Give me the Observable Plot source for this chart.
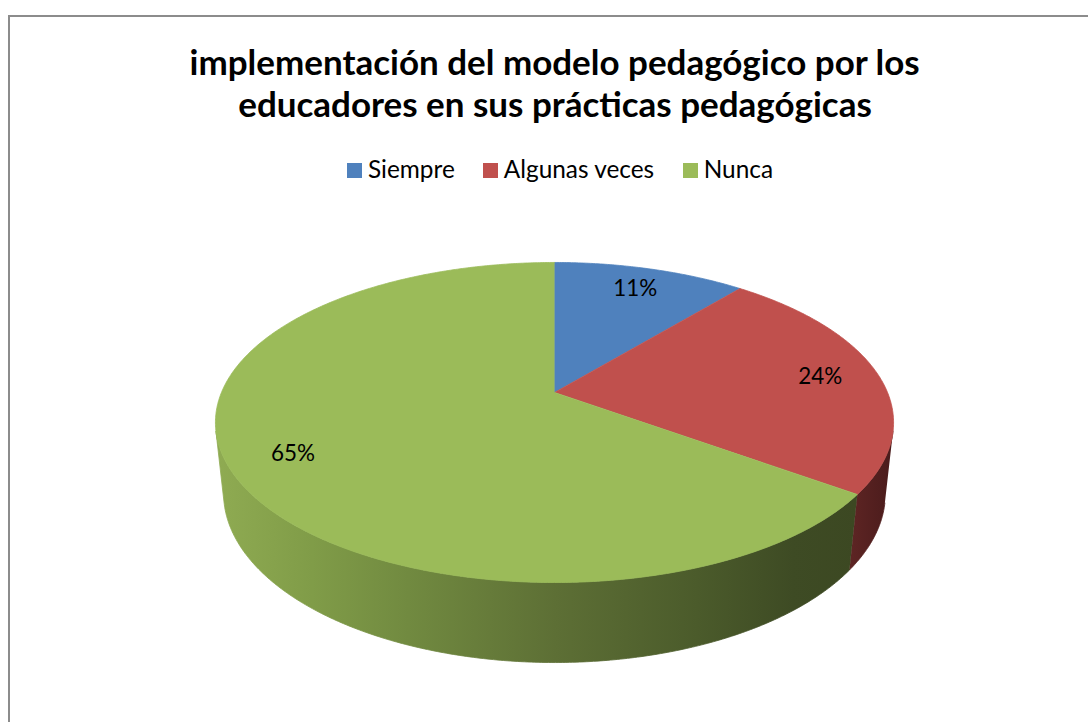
<!DOCTYPE html>
<html>
<head>
<meta charset="utf-8">
<script src="https://cdn.jsdelivr.net/npm/d3@7"></script>
<script src="https://cdn.jsdelivr.net/npm/@observablehq/plot@0.6"></script>
<style>
html, body { margin: 0; padding: 0; background: #fff; overflow: hidden; width: 1088px; height: 722px; }
#page { position: relative; width: 1088px; height: 722px; }
#header { position: relative; height: 200px; }
#frame { position: absolute; left: 8px; top: 15px; width: 1200px; height: 800px;
  border-left: 2px solid #8c8c8c; border-top: 2px solid #8c8c8c; pointer-events: none; }
.t { position: absolute; white-space: nowrap; font-family: Lato, sans-serif; line-height: 1; color: #000; }
.sw { position: absolute; width: 15px; height: 15px; }
</style>
</head>
<body>
<div id="page">
  <div id="header"></div>
  <div id="chart"></div>
  <div id="frame"></div>
</div>
<script>
// ---- data ----
const titleLines = ["implementación del modelo pedagógico por los", "educadores en sus prácticas pedagógicas"];
const categories = ["Siempre", "Algunas veces", "Nunca"];
const values = [11, 24, 65];
const valueLabels = ["11%", "24%", "65%"];

// ---- styles ----
const palette = ["#4F81BD", "#C0504D", "#9BBB59"];
const sideShades = [
  [[0, "#3b6290"], [1, "#2a476a"]],
  [[0, "#5e2524"], [1, "#4a1b1b"]],
  [[0, "#8fab52"], [0.15, "#809c48"], [0.3, "#718a40"], [0.53, "#5d6f35"], [0.75, "#4b5b2b"], [0.9, "#3e4b24"], [1, "#3c4822"]]
];
const FONT = "Lato";

// ---- text helpers ----
const ctx = document.createElement("canvas").getContext("2d");
function measure(text, weight, size) {
  ctx.font = `${weight} ${size}px ${FONT}`;
  return ctx.measureText(text);
}
function fitSize(text, weight, targetW) {
  return 100 * targetW / measure(text, weight, 100).width;
}
const header = document.getElementById("header");
function placeText(text, weight, size, left, baseline) {
  const m = measure(text, weight, size);
  const A = m.fontBoundingBoxAscent, D = m.fontBoundingBoxDescent;
  const top = baseline - ((size - (A + D)) / 2 + A);
  const el = document.createElement("div");
  el.className = "t";
  el.textContent = text;
  el.style.fontWeight = weight;
  el.style.fontSize = size + "px";
  el.style.left = left + "px";
  el.style.top = top + "px";
  header.appendChild(el);
  return m.width;
}

// title
const titleSize = fitSize(titleLines[0], 700, 731);
const titleBaselines = [75, 117];
titleLines.forEach((line, i) => {
  const w = measure(line, 700, titleSize).width;
  placeText(line, 700, titleSize, 555 - w / 2, titleBaselines[i]);
});

// legend
const legSize = fitSize("Algunas veces", 400, 151);
const legW = categories.map(c => measure(c, 400, legSize).width);
const total = d3.sum(legW) + categories.length * (15 + 6) + (categories.length - 1) * 28;
let lx = 560 - total / 2;
categories.forEach((c, i) => {
  const sw = document.createElement("div");
  sw.className = "sw";
  sw.style.left = lx + "px";
  sw.style.top = "163px";
  sw.style.background = palette[i];
  header.appendChild(sw);
  placeText(c, 400, legSize, lx + 21, 179);
  lx += 21 + legW[i] + 28;
});

// ---- 3D pie geometry (perspective) ----
const cam = {cx: 554, cy: 392, F: 1574, L: 4.726, tilt: Math.asin(0.4636), depth: 0.242};
const sn = Math.sin(cam.tilt), cs = Math.cos(cam.tilt);
function project(r, theta, h) {
  const x = r * Math.sin(theta), z = -r * Math.cos(theta);
  const zc = cam.L - h * sn - z * cs;
  return {x: cam.cx + cam.F * x / zc, y: cam.cy + cam.F * (z * sn - h * cs) / zc};
}
const step = Math.PI / 360;
function arcAngles(a0, a1) {
  const n = Math.max(2, Math.ceil((a1 - a0) / step));
  return d3.range(n + 1).map(i => a0 + (a1 - a0) * i / n);
}
const visLo = Math.acos(-1 / (cam.L * cs)), visHi = 2 * Math.PI - visLo;

const arcs = d3.pie().sort(null).value(d => d)(values);
const tops = arcs.map(a => [project(0, 0, 0), ...arcAngles(a.startAngle, a.endAngle).map(t => project(1, t, 0))]);
const sides = arcs.map(a => {
  const a0 = Math.max(a.startAngle, visLo), a1 = Math.min(a.endAngle, visHi);
  if (a1 <= a0) return null;
  const ts = arcAngles(a0, a1);
  return [...ts.map(t => project(1, t, 0)), ...ts.slice().reverse().map(t => project(1, t, -cam.depth))];
});
const labelData = arcs.map((a, i) => ({...project(0.82, (a.startAngle + a.endAngle) / 2, 0), text: valueLabels[i]}));
const labelSize = fitSize("11%", 400, 44);

const marks = [];
sides.forEach((pts, i) => {
  if (pts) marks.push(Plot.line(pts, {x: "x", y: "y", fill: `url(#side${i})`, stroke: `url(#side${i})`, strokeWidth: 0.8}));
});
tops.forEach((pts, i) => {
  marks.push(Plot.line(pts, {x: "x", y: "y", fill: palette[i], stroke: palette[i], strokeWidth: 0.8, strokeLinejoin: "round"}));
});
marks.push(Plot.text(labelData, {x: "x", y: "y", text: "text", fontSize: labelSize, fill: "#000"}));

const svg = Plot.plot({
  width: 1088,
  height: 522,
  margin: 0,
  x: {domain: [0, 1088], range: [0, 1088], axis: null},
  y: {domain: [200, 722], range: [0, 522], axis: null},
  style: {fontFamily: FONT, background: "transparent", overflow: "visible"},
  marks
});
const defs = d3.select(svg).insert("defs", ":first-child");
sideShades.forEach((stops, i) => {
  const g = defs.append("linearGradient").attr("id", `side${i}`)
    .attr("x1", 0).attr("x2", 1).attr("y1", 0).attr("y2", 0);
  stops.forEach(([o, c]) => g.append("stop").attr("offset", o).attr("stop-color", c));
});
document.getElementById("chart").appendChild(svg);
</script>
</body>
</html>
